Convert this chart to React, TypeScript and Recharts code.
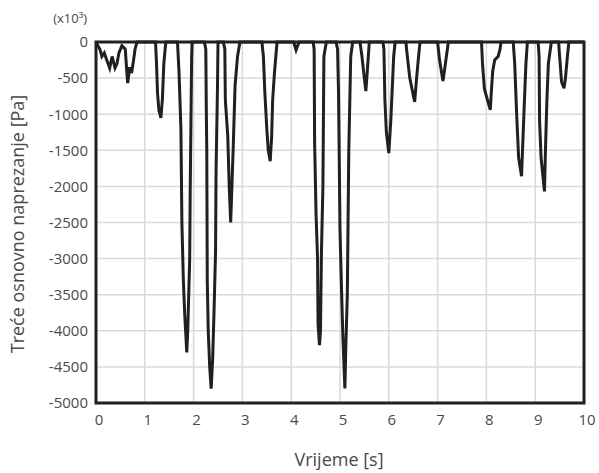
import React from 'react'
import {
  LineChart,
  Line,
  XAxis,
  YAxis,
  CartesianGrid,
  ReferenceArea,
  Label,
} from 'recharts'

// time in seconds
const times = [
  0, 0.04, 0.08, 0.12, 0.17, 0.22, 0.28, 0.33, 0.39, 0.43, 0.47, 0.53, 0.6, 0.63, 0.65, 0.69, 0.73, 0.77, 0.8, 0.84,
  1.22, 1.24, 1.26, 1.29, 1.33, 1.36, 1.39, 1.43,
  1.67, 1.7, 1.74, 1.76, 1.79, 1.82, 1.86, 1.88, 1.92, 1.93, 1.96, 1.97,
  2.22, 2.25, 2.26, 2.27, 2.28, 2.3, 2.33, 2.36, 2.39, 2.42, 2.45, 2.46, 2.49, 2.5,
  2.61, 2.64, 2.65, 2.7, 2.73, 2.76, 2.78, 2.81, 2.85, 2.9, 2.95,
  3.4, 3.43, 3.46, 3.5, 3.53, 3.57, 3.6, 3.62, 3.66, 3.71,
  4.05, 4.1, 4.16,
  4.45, 4.47, 4.48, 4.51, 4.54, 4.55, 4.58, 4.6, 4.62, 4.65, 4.67, 4.72,
  4.92, 4.95, 4.97, 5.0, 5.03, 5.06, 5.1, 5.12, 5.15, 5.18, 5.22, 5.26,
  5.41, 5.45, 5.49, 5.53, 5.56, 5.6,
  5.88, 5.9, 5.92, 5.95, 6.0, 6.04, 6.08, 6.1, 6.13,
  6.35, 6.38, 6.43, 6.53, 6.57, 6.61, 6.64,
  7.0, 7.04, 7.11, 7.15, 7.22,
  7.9, 7.92, 7.96, 8.0, 8.08, 8.1, 8.13, 8.17, 8.24, 8.28, 8.3,
  8.55, 8.58, 8.62, 8.66, 8.72, 8.74, 8.78, 8.81, 8.84,
  9.06, 9.08, 9.09, 9.12, 9.19, 9.21, 9.24, 9.27, 9.33,
  9.48, 9.5, 9.54, 9.59, 9.62, 9.66, 9.69,
  10,
]

// third principal stress, x10^3 Pa
const stress = [
  0, -50, -100, -200, -150, -250, -360, -200, -360, -300, -150, -50, -100, -400, -570, -350, -430, -250, -100, 0,
  0, -300, -700, -950, -1050, -800, -300, 0,
  0, -400, -1200, -2500, -3300, -3800, -4300, -4000, -3000, -2100, -200, 0,
  0, -100, -900, -1500, -3300, -4000, -4500, -4800, -4400, -3700, -2900, -1800, -600, 0,
  0, -100, -800, -1300, -2000, -2500, -2100, -1500, -600, -200, 0,
  0, -200, -700, -1200, -1500, -1650, -1300, -800, -400, 0,
  0, -110, 0,
  0, -100, -1400, -2400, -3000, -3900, -4200, -4000, -2900, -2000, -200, 0,
  0, -100, -700, -2600, -3400, -4100, -4800, -4200, -3500, -1500, -200, 0,
  0, -200, -450, -680, -400, 0,
  0, -100, -800, -1250, -1540, -1100, -500, -200, 0,
  0, -200, -500, -830, -500, -200, 0,
  0, -250, -540, -350, 0,
  0, -300, -650, -750, -940, -700, -400, -250, -200, -100, 0,
  0, -300, -1000, -1600, -1860, -1500, -800, -300, 0,
  0, -200, -1100, -1600, -2070, -1500, -800, -300, 0,
  0, -200, -550, -640, -500, -200, 0,
  0,
]

const xTicks = [0, 1, 2, 3, 4, 5, 6, 7, 8, 9, 10]
const yTicks = [0, -500, -1000, -1500, -2000, -2500, -3000, -3500, -4000, -4500, -5000]

const data = times.map((t, i) => ({ t, v: stress[i] }))

const font = '"Open Sans", "Noto Sans", sans-serif'
const textColor = '#4a4a4a'
const ink = '#231f20'

const App = () => {
  return (
    <div style={{ position: 'absolute', left: 0, top: 0 }}>
      <LineChart
        width={599}
        height={473}
        data={data}
        margin={{ top: 42, right: 15, bottom: 40, left: 0 }}
        style={{ fontFamily: font }}
      >
        <CartesianGrid stroke="#d9d9d9" strokeWidth={1.5} />
        <XAxis
          type="number"
          dataKey="t"
          domain={[0, 10]}
          ticks={xTicks}
          height={30}
          tickLine={false}
          axisLine={false}
          tickMargin={5}
          interval={0}
          tick={{ fill: textColor, fontSize: 15, dx: 3 }}
        >
          <Label
            content={() => (
              <text x={339} y={459} textAnchor="middle" dominantBaseline="central" fill={textColor} fontSize={18} fontFamily={font}>
                Vrijeme [s]
              </text>
            )}
          />
        </XAxis>
        <YAxis
          type="number"
          domain={[-5000, 0]}
          ticks={yTicks}
          width={96}
          tickLine={false}
          axisLine={false}
          interval={0}
          tick={{ fill: textColor, fontSize: 15 }}
        >
          <Label
            content={() => (
              <text
                x={17}
                y={224}
                transform="rotate(-90 17 224)"
                textAnchor="middle"
                dominantBaseline="central"
                fill={textColor}
                fontSize={18}
                fontFamily={font}
              >
                Treće osnovno naprezanje [Pa]
              </text>
            )}
          />
          <Label
            content={() => (
              <text x={87} y={18} textAnchor="end" dominantBaseline="central" fill={textColor} fontSize={13} fontFamily={font}>
                (x10³)
              </text>
            )}
          />
        </YAxis>
        <ReferenceArea x1={0} x2={10} y1={-5000} y2={0} fill="none" stroke={ink} strokeWidth={3} />
        <Line
          type="linear"
          dataKey="v"
          stroke={ink}
          strokeWidth={3}
          dot={false}
          isAnimationActive={false}
        />
      </LineChart>
    </div>
  )
}

export default App
